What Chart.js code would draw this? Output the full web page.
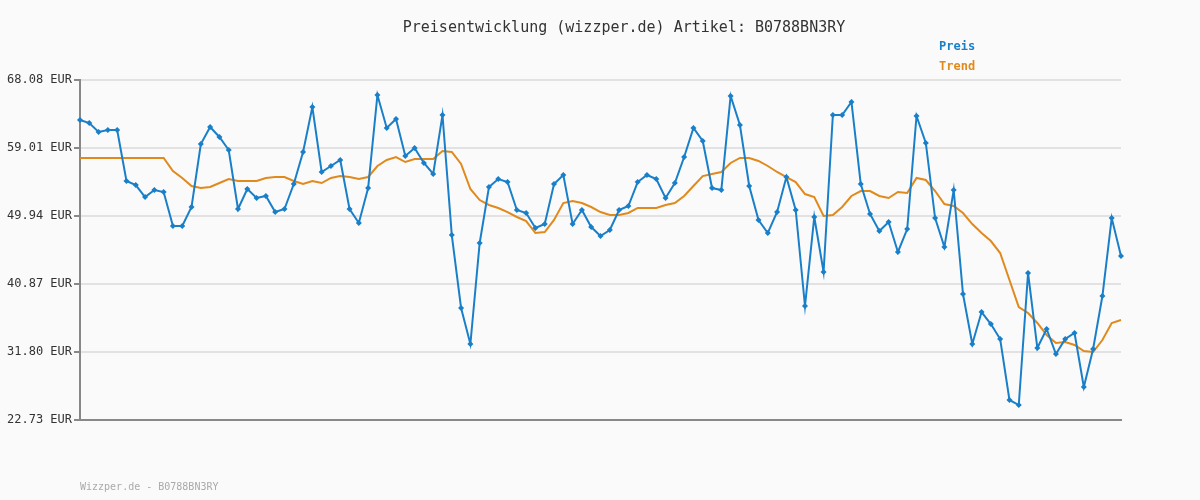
<!DOCTYPE html>
<html><head><meta charset="utf-8">
<script src="https://cdn.jsdelivr.net/npm/chart.js@4/dist/chart.umd.min.js"></script>
<style>html,body{margin:0;background:#fafafa}#w{width:1200px;height:500px}</style>
</head><body><div id="w"><canvas id="c"></canvas></div>
<script>
const title = "Preisentwicklung (wizzper.de) Artikel: B0788BN3RY";
const footer = "Wizzper.de - B0788BN3RY";
const yTicks = [22.73, 31.80, 40.87, 49.94, 59.01, 68.08];
const price = [62.74,62.34,61.14,61.41,61.41,54.61,54.07,52.47,53.41,53.14,48.60,48.60,51.14,59.54,61.81,60.48,58.74,50.87,53.54,52.34,52.61,50.47,50.87,54.21,58.48,64.48,55.81,56.61,57.41,50.87,49.01,53.67,66.08,61.68,62.88,57.94,59.01,57.01,55.54,63.41,47.40,37.67,32.87,46.34,53.81,54.87,54.47,50.74,50.34,48.34,48.87,54.21,55.41,48.87,50.74,48.47,47.27,48.07,50.74,51.27,54.47,55.41,54.87,52.34,54.34,57.81,61.68,59.94,53.67,53.41,65.95,62.08,53.94,49.41,47.67,50.47,55.14,50.74,37.93,49.81,42.47,63.41,63.41,65.15,54.21,50.21,47.94,49.14,45.14,48.20,63.28,59.68,49.67,45.80,53.41,39.53,32.87,37.13,35.53,33.53,25.40,24.73,42.34,32.33,34.87,31.53,33.53,34.33,27.13,32.20,39.27,49.67,44.60];
const trend = [57.68,57.68,57.68,57.68,57.68,57.68,57.68,57.68,57.68,57.68,55.94,55.01,53.94,53.67,53.81,54.34,54.87,54.61,54.61,54.61,55.01,55.14,55.14,54.61,54.21,54.61,54.34,55.01,55.27,55.14,54.87,55.14,56.61,57.41,57.81,57.14,57.54,57.54,57.54,58.61,58.48,56.88,53.54,52.07,51.41,51.01,50.47,49.81,49.27,47.67,47.80,49.41,51.67,51.94,51.67,51.14,50.47,50.07,50.07,50.34,51.01,51.01,51.01,51.41,51.67,52.61,53.94,55.27,55.54,55.81,57.01,57.68,57.68,57.28,56.61,55.81,55.14,54.47,52.87,52.47,49.94,50.07,51.14,52.61,53.27,53.27,52.61,52.34,53.14,53.01,55.01,54.74,53.27,51.54,51.27,50.34,48.87,47.67,46.60,45.00,41.40,37.80,37.00,35.67,34.07,33.00,33.13,32.73,31.93,31.80,33.40,35.67,36.07];
const labels = price.map((_, i) => i + 1);
const font = "'DejaVu Sans Mono', monospace";

const deco = {
  id: 'deco',
  beforeDraw(c) {
    const x = c.ctx; x.save(); x.fillStyle = '#fafafa'; x.fillRect(0,0,c.width,c.height); x.restore();
  },
  afterDraw(c) {
    const x = c.ctx; x.save();
    x.font = "15px " + font; x.fillStyle = '#333'; x.textAlign = 'center'; x.textBaseline = 'middle';
    x.fillText(title, 624, 28);
    x.font = "bold 12px " + font; x.textAlign = 'left';
    x.fillStyle = '#1a7fc9'; x.fillText('Preis', 939, 47);
    x.fillStyle = '#e08a1e'; x.fillText('Trend', 939, 67);
    x.font = "10px " + font; x.fillStyle = '#aaa';
    x.fillText(footer, 80, 487);
    x.restore();
  }
};

new Chart(document.getElementById('c'), {
  type: 'line',
  data: { labels, datasets: [
    { label: 'Preis', data: price, borderColor: '#1a7fc9', backgroundColor: '#1a7fc9', borderWidth: 2, pointStyle: 'rectRot', pointRadius: 1.6, pointHoverRadius: 1.6, tension: 0 },
    { label: 'Trend', data: trend, borderColor: '#e08a1e', borderWidth: 2, pointRadius: 0, tension: 0 }
  ]},
  options: {
    responsive: true, maintainAspectRatio: false, animation: false,
    layout: { padding: { top: 80, right: 79, bottom: 80, left: 0 } },
    plugins: { legend: { display: false }, tooltip: { enabled: false } },
    scales: {
      x: { offset: false, grid: { display: false }, border: { display: true, color: '#888', width: 2 }, ticks: { display: false }, afterFit: s => { s.height = 0; } },
      y: { min: 22.73, max: 68.08,
        afterBuildTicks: s => { s.ticks = yTicks.map(v => ({ value: v })); },
        afterFit: s => { s.width = 80; },
        grid: { color: '#e2e2e2', lineWidth: 2, drawTicks: true, tickLength: 6, tickColor: '#888' },
        border: { display: true, color: '#888', width: 2 },
        ticks: { color: '#333', font: { family: font, size: 12 }, padding: 2, callback: v => v.toFixed(2) + ' EUR' } }
    }
  },
  plugins: [deco]
});
</script></body></html>
